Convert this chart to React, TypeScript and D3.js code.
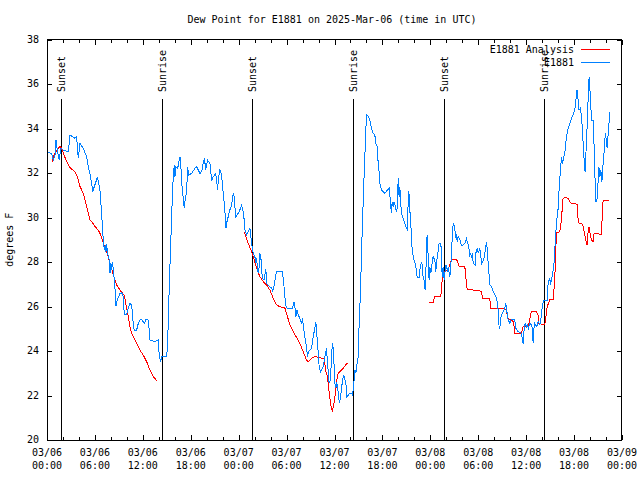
import React from "react";
import * as d3 from "d3";

// Hours since 2025-03-06 00:00 UTC
const observedHours: number[] = [
  0.17, 0.58, 0.79, 1.0, 1.13, 1.29, 1.54, 1.71, 2.04, 2.67, 2.88, 3.5, 3.71, 3.92, 4.13, 4.54, 4.96, 5.17, 5.38, 5.59,
  5.72, 5.92, 6.13, 6.3, 6.42, 6.63, 6.72, 6.84, 6.93, 7.05, 7.17, 7.3, 7.38, 7.47, 7.59, 7.76, 7.88, 8.01, 8.09, 8.22,
  8.3, 8.39, 8.51, 8.64, 8.8, 9.14, 9.35, 9.55, 9.68, 9.97, 10.18, 10.39, 10.6, 10.8, 10.93, 11.22, 11.43, 11.64, 11.85, 12.18,
  12.39, 12.68, 12.8, 12.89, 13.52, 13.93, 14.05, 14.23, 14.36, 14.98, 15.11, 15.18, 15.31, 15.48, 15.6, 15.68, 15.81, 15.93, 16.02, 16.15,
  16.36, 16.48, 16.65, 16.77, 16.86, 16.98, 17.11, 17.23, 17.31, 17.48, 17.6, 17.73, 18.11, 18.52, 18.73, 19.15, 19.36, 19.56, 19.73, 19.86,
  20.11, 20.4, 20.53, 20.65, 20.82, 21.11, 21.24, 21.36, 21.49, 21.65, 21.86, 21.99, 22.15, 22.28, 22.4, 22.49, 22.69, 22.9, 23.12, 23.32,
  23.44, 23.53, 23.65, 24.07, 24.37, 24.57, 24.69, 24.78, 24.99, 25.41, 25.62, 25.82, 26.03, 26.16, 26.24, 26.37, 26.45, 26.57, 26.66, 26.78,
  26.87, 26.99, 27.16, 27.41, 27.5, 27.91, 28.16, 28.25, 28.41, 28.66, 28.75, 29.45, 29.58, 29.7, 29.79, 29.91, 30.08, 30.75, 30.91, 31.04,
  31.16, 31.29, 31.45, 31.66, 31.87, 31.99, 32.17, 32.29, 32.5, 32.62, 32.75, 33.13, 33.33, 33.54, 33.67, 33.75, 33.88, 33.96, 34.08, 34.26,
  34.58, 34.79, 35.0, 35.13, 35.2, 35.33, 35.51, 35.63, 35.76, 35.83, 35.96, 36.05, 36.17, 36.26, 36.38, 36.51, 36.63, 36.76, 37.01, 37.17,
  37.42, 37.55, 37.92, 38.13, 38.26, 38.34, 38.42, 38.55, 38.67, 38.76, 38.96, 39.09, 39.26, 39.38, 39.51, 39.67, 39.8, 39.92, 40.01, 40.22,
  40.43, 40.64, 40.85, 41.05, 41.18, 41.35, 41.47, 41.6, 41.68, 41.89, 42.3, 42.72, 42.84, 42.93, 43.05, 43.14, 43.22, 43.34, 43.47, 43.59,
  43.76, 43.89, 43.97, 44.09, 44.18, 44.31, 44.39, 44.6, 44.81, 45.02, 45.14, 45.22, 45.31, 45.43, 45.56, 45.65, 45.77, 45.93, 46.06, 46.18,
  46.35, 46.6, 46.68, 46.89, 47.02, 47.1, 47.22, 47.35, 47.43, 47.52, 47.6, 47.68, 47.77, 47.85, 47.93, 48.06, 48.19, 48.35, 48.56, 48.69,
  48.77, 48.9, 49.02, 49.1, 49.31, 49.4, 49.48, 49.6, 49.73, 49.85, 49.94, 50.15, 50.27, 50.4, 50.52, 50.65, 50.77, 50.86, 50.98, 51.07,
  51.19, 51.28, 51.36, 51.48, 51.69, 51.9, 52.1, 52.32, 52.53, 52.65, 52.78, 52.86, 52.94, 53.07, 53.15, 53.28, 53.36, 53.61, 53.69, 53.9,
  53.99, 54.19, 54.32, 54.44, 54.69, 54.94, 55.03, 55.15, 55.23, 55.36, 55.44, 55.65, 55.86, 55.98, 56.2, 56.36, 56.49, 56.61, 56.7, 56.78,
  56.91, 57.2, 57.32, 57.45, 57.57, 57.66, 57.78, 57.95, 58.07, 58.57, 58.7, 58.99, 59.41, 59.54, 59.62, 59.74, 59.87, 60.04, 60.16, 60.29,
  60.45, 60.7, 60.79, 60.87, 60.95, 61.08, 61.33, 61.5, 61.71, 61.83, 61.96, 62.08, 62.21, 62.63, 62.75, 62.88, 62.96, 63.05, 63.17, 63.3,
  63.46, 63.58, 63.71, 63.83, 64.0, 64.12, 64.29, 64.42, 64.54, 64.71, 64.83, 64.96, 65.04, 65.25, 65.46, 65.67, 65.88, 66.08, 66.21, 66.29,
  66.37, 66.5, 66.62, 66.79, 66.92, 67.05, 67.17, 67.3, 67.38, 67.46, 67.59, 67.68, 67.8, 67.88, 67.97, 68.09, 68.22, 68.38, 68.51, 68.64,
  68.72, 68.85, 68.97, 69.1, 69.23, 69.35, 69.48, 69.64, 69.73, 69.85, 69.94, 70.06, 70.15, 70.23, 70.36, 70.48,
];

const observedValues: number[] = [
  32.93, 32.88, 32.58, 32.81, 33.48, 33.03, 32.58, 33.11, 33.03, 32.96, 33.71, 33.56, 33.63, 32.66, 33.33, 33.11, 32.73, 32.28, 31.98, 31.54,
  31.16, 31.39, 31.61, 31.83, 31.61, 31.24, 30.71, 30.26, 29.55, 28.99, 28.54, 28.76, 28.46, 28.81, 28.39, 28.17, 27.49, 27.94, 27.64, 28.01,
  27.64, 27.34, 26.82, 26.02, 26.29, 26.59, 26.62, 26.44, 25.62, 25.62, 25.92, 26.14, 26.07, 25.24, 24.91, 24.94, 25.24, 25.39, 25.42, 25.24,
  25.42, 25.39, 24.94, 24.49, 24.42, 24.49, 23.82, 23.52, 23.74, 23.74, 24.27, 25.39, 26.89, 28.76, 29.89, 30.79, 31.83, 32.36, 31.83, 32.28,
  32.21, 32.43, 32.73, 32.28, 31.54, 31.24, 30.56, 30.41, 30.94, 31.09, 32.28, 31.91, 31.98, 32.21, 32.28, 31.98, 32.06, 32.43, 32.66, 32.13,
  32.58, 32.43, 31.98, 31.69, 31.83, 31.98, 31.69, 31.24, 31.83, 32.13, 31.91, 31.39, 30.79, 30.26, 29.51, 29.74, 30.04, 30.34, 30.56, 31.09,
  30.94, 30.49, 30.04, 30.26, 30.56, 30.26, 29.89, 29.44, 29.21, 29.51, 28.84, 28.39, 28.24, 27.94, 28.17, 27.64, 27.49, 27.79, 28.39, 28.24,
  27.64, 27.27, 27.19, 27.67, 27.04, 26.89, 26.82, 26.67, 26.89, 27.42, 27.57, 27.57, 27.27, 26.82, 26.44, 26.02, 25.92, 25.92, 26.22, 25.99,
  25.54, 25.84, 25.62, 25.47, 25.24, 25.47, 24.94, 24.64, 24.19, 23.74, 23.97, 24.12, 24.64, 25.02, 25.32, 24.87, 24.34, 23.9, 23.29, 23.07,
  23.29, 23.74, 24.12, 23.44, 23.15, 22.55, 22.7, 23.9, 24.34, 24.12, 23.29, 22.55, 22.32, 22.62, 22.4, 21.95, 21.65, 21.95, 22.7, 22.92,
  22.55, 21.95, 22.1, 22.1, 22.02, 22.25, 22.55, 23.15, 23.0, 23.29, 23.74, 25.24, 26.74, 28.39, 29.8, 31.54, 32.73, 33.93, 34.61, 34.56,
  34.38, 34.0, 33.78, 33.71, 33.33, 33.18, 32.43, 31.98, 31.54, 31.24, 31.09, 31.27, 31.31, 31.0, 30.49, 30.19, 30.71, 30.49, 30.71, 30.56,
  30.26, 30.49, 31.76, 30.94, 31.39, 30.56, 30.19, 29.96, 29.74, 29.51, 29.44, 30.71, 31.2, 30.34, 29.74, 28.84, 28.46, 28.09, 28.01, 27.79,
  27.31, 27.31, 27.64, 28.01, 27.79, 27.27, 27.19, 26.74, 27.34, 28.62, 29.21, 28.69, 27.79, 27.19, 27.79, 27.49, 27.87, 28.24, 28.09, 27.57,
  27.94, 28.31, 28.54, 28.84, 28.84, 28.39, 27.34, 27.79, 27.19, 27.57, 27.87, 27.64, 27.79, 27.34, 27.49, 28.46, 29.29, 29.74, 29.66, 29.44,
  29.14, 29.21, 28.91, 29.14, 29.0, 28.76, 28.76, 28.84, 29.06, 28.84, 28.76, 28.54, 28.31, 28.39, 28.17, 28.39, 27.94, 27.87, 28.39, 28.62,
  28.39, 28.62, 28.24, 27.94, 28.09, 28.69, 28.91, 28.46, 28.01, 27.42, 26.97, 26.89, 26.67, 26.59, 26.44, 26.22, 25.84, 25.09, 25.02, 25.39,
  25.62, 25.84, 25.92, 26.14, 25.84, 25.54, 25.39, 25.24, 25.39, 25.42, 25.02, 24.87, 24.79, 24.49, 24.31, 24.94, 25.24, 25.09, 25.17, 25.02,
  25.24, 25.17, 24.94, 24.34, 24.94, 25.24, 25.09, 25.32, 25.17, 25.39, 25.84, 26.14, 26.29, 26.29, 27.04, 27.19, 27.27, 26.97, 27.19, 27.49,
  27.79, 28.54, 29.29, 29.89, 30.4, 31.24, 32.13, 32.73, 32.43, 32.73, 32.88, 33.33, 33.63, 34.0, 34.23, 34.45, 34.61, 34.83, 35.13, 35.58,
  35.73, 35.28, 34.83, 34.91, 34.53, 33.93, 33.03, 32.43, 32.06, 32.73, 33.63, 34.68, 35.66, 36.33, 35.88, 34.98, 34.38, 34.38, 33.18, 31.54,
  30.71, 30.71, 31.39, 32.28, 31.83, 32.13, 31.61, 32.43, 32.81, 33.48, 33.78, 33.33, 33.11, 33.56, 34.16, 34.76,
];

// Analysis series; null marks a gap in the record
const analysisHours: number[] = [
  0.67, 0.79, 1.0, 1.42, 1.63, 1.75, 1.96, 2.13, 2.38, 2.67, 2.96, 3.29, 3.5, 3.71, 3.92, 4.13, 4.34, 4.54, 4.76, 4.97,
  5.17, 5.38, 5.59, 6.01, 6.3, 6.55, 6.72, 6.88, 7.05, 7.26, 7.47, 7.68, 7.88, 8.09, 8.3, 8.51, 8.72, 8.93, 9.14, 9.47,
  9.64, 9.8, 9.97, 10.18, 10.39, 10.6, 10.8, 11.22, 11.64, 12.05, 12.48, 12.89, 13.31, 13.73,
  19.0,
  24.69, 25.12, 25.53, 25.95, 26.32, 26.66, 27.07, 27.5, 27.91, 28.33, 28.75, 29.16, 29.58, 29.79, 30.0, 30.41, 30.83, 31.25, 31.66, 32.08,
  32.5, 32.71, 33.13, 33.54, 33.96, 34.51, 34.67, 34.79, 34.92, 35.08, 35.2, 35.33, 35.51, 35.63, 35.76, 35.83, 35.96, 36.05, 36.17, 36.26,
  36.33, 36.46, 36.67, 37.08, 37.51, 37.63,
  43.0,
  47.85, 48.35, 48.56, 49.31, 49.4, 49.48, 49.6, 50.23, 50.35, 50.52, 50.65, 51.28, 51.48, 51.61, 52.32, 52.44, 52.61, 53.36, 54.19, 54.4,
  54.53, 55.44, 55.57, 56.49, 57.53, 57.66, 58.16, 58.37, 58.49, 58.57, 59.41, 59.62, 60.24, 60.45, 60.54, 60.66, 61.29, 61.5, 61.58, 62.33,
  62.45, 62.63, 62.96, 63.38, 63.58, 63.71, 63.79, 64.21, 64.42, 64.54, 64.62, 64.83, 65.25, 65.46, 65.67, 66.37, 66.5, 66.62, 66.92, 67.13,
  67.26, 67.46, 67.63, 67.76, 67.88, 67.97, 68.18, 68.38, 68.51, 69.43, 69.55, 69.64, 70.39,
];

const analysisValues: (number | null)[] = [
  32.51, 32.73, 32.88, 33.11, 33.21, 33.15, 33.0, 32.81, 32.58, 32.36, 32.21, 32.13, 32.06, 31.91, 31.69, 31.39, 31.24, 31.09, 30.79, 30.49,
  30.19, 29.89, 29.81, 29.6, 29.48, 29.36, 29.21, 29.06, 28.84, 28.62, 28.46, 28.24, 27.94, 27.72, 27.42, 27.19, 26.97, 26.85, 26.74, 26.59,
  26.52, 26.29, 25.92, 25.54, 25.09, 24.79, 24.64, 24.34, 24.04, 23.82, 23.52, 23.15, 22.85, 22.67,
  null,
  29.36, 28.91, 28.54, 28.09, 27.64, 27.34, 27.12, 26.97, 26.74, 26.37, 26.07, 25.99, 25.96, 25.92, 25.69, 25.17, 24.87, 24.61, 24.34, 23.97,
  23.6, 23.52, 23.67, 23.74, 23.72, 23.67, 23.67, 23.44, 23.07, 22.92, 22.55, 22.17, 21.65, 21.42, 21.27, 21.5, 21.72, 21.95, 22.25, 22.55,
  22.77, 23.0, 23.07, 23.22, 23.42, 23.47,
  null,
  26.19, 26.19, 26.44, 26.47, 26.82, 27.19, 27.57, 27.64, 27.79, 27.94, 28.12, 28.12, 27.94, 27.79, 27.79, 27.34, 26.77, 26.74, 26.71, 26.67,
  26.37, 26.37, 25.92, 25.92, 25.87, 25.47, 25.39, 25.32, 25.09, 24.79, 24.79, 25.09, 25.09, 25.39, 25.62, 25.77, 25.77, 25.62, 25.24, 25.17,
  25.47, 25.99, 26.31, 26.31, 27.19, 28.54, 29.31, 29.36, 29.89, 30.56, 30.86, 30.9, 30.86, 30.71, 30.64, 30.6, 29.96, 29.74, 29.74, 29.6,
  29.36, 28.99, 28.76, 29.36, 29.59, 29.36, 28.99, 28.91, 29.29, 29.24, 30.34, 30.77, 30.77,
];

const sunEvents: { label: string; time: string }[] = [
  { label: "Sunset", time: "2025-03-06T01:43:00Z" },
  { label: "Sunrise", time: "2025-03-06T14:26:00Z" },
  { label: "Sunset", time: "2025-03-07T01:43:00Z" },
  { label: "Sunrise", time: "2025-03-07T14:21:00Z" },
  { label: "Sunset", time: "2025-03-08T01:40:00Z" },
  { label: "Sunrise", time: "2025-03-08T14:16:00Z" },
];

const yTickValues: number[] = [20, 22, 24, 26, 28, 30, 32, 34, 36, 38];
const seriesNames: string[] = ["E1881 Analysis", "E1881"];
const seriesColors: string[] = ["#ff0000", "#0080ff"];
const titleText = "Dew Point for E1881 on 2025-Mar-06 (time in UTC)";
const yLabel = "degrees F";

const T0 = Date.UTC(2025, 2, 6);
const T1 = Date.UTC(2025, 2, 9);
const toDate = (h: number) => new Date(T0 + h * 3600 * 1000);

export default function App() {
  const W = 640, H = 480;
  const L = 47, R = 622, T = 39.5, B = 440;
  const font = "'DejaVu Sans Mono', 'Liberation Mono', monospace";

  const x = d3.scaleUtc().domain([new Date(T0), new Date(T1)]).range([L, R]);
  const y = d3.scaleLinear().domain([20, 38]).range([B, T]);

  type P = { t: Date; v: number | null };
  const obs: P[] = observedHours.map((h, i) => ({ t: toDate(h), v: observedValues[i] }));
  const ana: P[] = analysisHours.map((h, i) => ({ t: toDate(h), v: analysisValues[i] }));

  const line = d3
    .line<P>()
    .defined((d) => d.v !== null)
    .x((d) => x(d.t))
    .y((d) => y(d.v as number));

  const majorTicks = x.ticks(d3.utcHour.every(6) as d3.TimeInterval);
  const minorTicks = x.ticks(d3.utcHour.every(2) as d3.TimeInterval);
  const fmtDate = d3.utcFormat("%m/%d");
  const fmtTime = d3.utcFormat("%H:%M");

  const snap = (v: number) => Math.round(v) + 0.5;

  return (
    <svg
      width={W}
      height={H}
      style={{ position: "absolute", left: 0, top: 0, background: "#fff" }}
      fontFamily={font}
      fontSize={10}
    >
      <rect x={0} y={0} width={W} height={H} fill="#fff" />
      <text x={332} y={20} textAnchor="middle" dominantBaseline="middle" fill="#000">
        {titleText}
      </text>

      {/* y ticks */}
      {yTickValues.map((v) => (
        <g key={"y" + v}>
          <line x1={L} x2={L + 5} y1={snap(y(v))} y2={snap(y(v))} stroke="#000" shapeRendering="crispEdges" />
          <line x1={R - 5} x2={R} y1={snap(y(v))} y2={snap(y(v))} stroke="#000" shapeRendering="crispEdges" />
          <text x={39} y={y(v)} textAnchor="end" dominantBaseline="middle" fill="#000">
            {v}
          </text>
        </g>
      ))}

      {/* x minor ticks */}
      {minorTicks.map((d, i) => (
        <g key={"m" + i}>
          <line x1={snap(x(d))} x2={snap(x(d))} y1={B} y2={B - 3} stroke="#000" shapeRendering="crispEdges" />
          <line x1={snap(x(d))} x2={snap(x(d))} y1={T} y2={T + 3} stroke="#000" shapeRendering="crispEdges" />
        </g>
      ))}
      {/* x major ticks and labels */}
      {majorTicks.map((d, i) => (
        <g key={"M" + i}>
          <line x1={snap(x(d))} x2={snap(x(d))} y1={B} y2={B - 5} stroke="#000" shapeRendering="crispEdges" />
          <line x1={snap(x(d))} x2={snap(x(d))} y1={T} y2={T + 5} stroke="#000" shapeRendering="crispEdges" />
          <text x={x(d)} y={453} textAnchor="middle" dominantBaseline="middle" fill="#000">
            {fmtDate(d)}
          </text>
          <text x={x(d)} y={466} textAnchor="middle" dominantBaseline="middle" fill="#000">
            {fmtTime(d)}
          </text>
        </g>
      ))}

      {/* y axis label */}
      <text
        transform={`translate(10,${(T + B) / 2}) rotate(-90)`}
        textAnchor="middle"
        dominantBaseline="middle"
        fill="#000"
      >
        {yLabel}
      </text>

      {/* sunrise / sunset markers */}
      {sunEvents.map((s, i) => {
        const xx = snap(x(new Date(s.time)));
        return (
          <g key={"s" + i}>
            <line x1={xx} x2={xx} y1={99} y2={B} stroke="#000" shapeRendering="crispEdges" />
            <text
              transform={`translate(${xx},92) rotate(-90)`}
              textAnchor="start"
              dominantBaseline="middle"
              fill="#000"
            >
              {s.label}
            </text>
          </g>
        );
      })}

      {/* data */}
      <path d={line(ana) || ""} fill="none" stroke={seriesColors[0]} strokeWidth={1} shapeRendering="crispEdges" />
      <path d={line(obs) || ""} fill="none" stroke={seriesColors[1]} strokeWidth={1} shapeRendering="crispEdges" />

      {/* legend */}
      {seriesNames.map((n, i) => (
        <g key={"l" + i}>
          <text x={574} y={49.5 + i * 13} textAnchor="end" dominantBaseline="middle" fill="#000">
            {n}
          </text>
          <line x1={581} x2={610} y1={49.5 + i * 13} y2={49.5 + i * 13} stroke={seriesColors[i]} shapeRendering="crispEdges" />
        </g>
      ))}

      {/* border */}
      <rect x={L + 0.5} y={T} width={R - L - 1} height={B - T} fill="none" stroke="#000" shapeRendering="crispEdges" />
    </svg>
  );
}
